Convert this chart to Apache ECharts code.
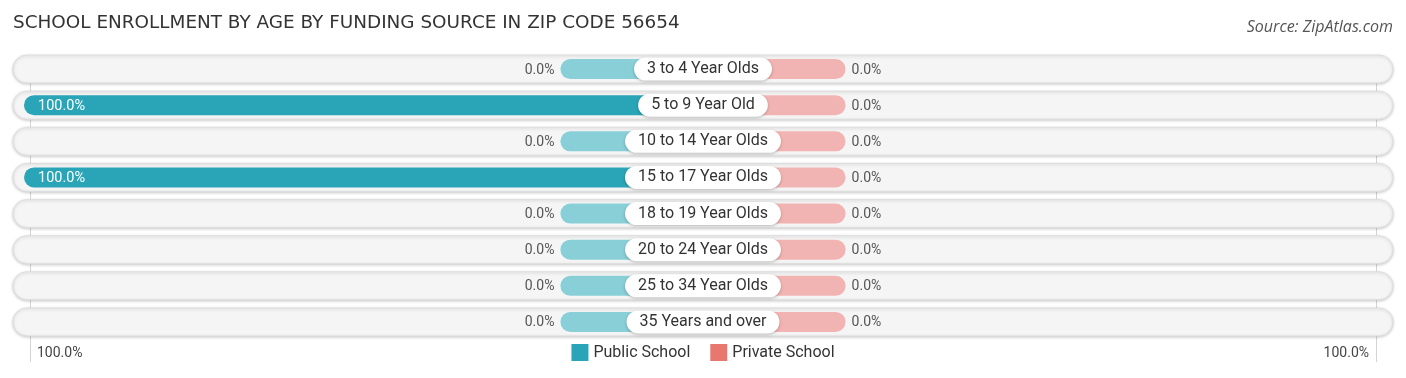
<!DOCTYPE html>
<html>
<head>
<meta charset="utf-8">
<script src="https://cdn.jsdelivr.net/npm/echarts@6/dist/echarts.min.js"></script>
<style>
html,body{margin:0;padding:0;background:#fff;}
#chart{width:1406px;height:378px;}
</style>
</head>
<body>
<div id="chart"></div>
<script>
const categories = ['3 to 4 Year Olds','5 to 9 Year Old','10 to 14 Year Olds','15 to 17 Year Olds','18 to 19 Year Olds','20 to 24 Year Olds','25 to 34 Year Olds','35 Years and over'];
const publicSchool = [0, 100, 0, 100, 0, 0, 0, 0];
const privateSchool = [0, 0, 0, 0, 0, 0, 0, 0];
const seriesNames = ['Public School', 'Private School'];
const axisTickLabels = ['100.0%', '100.0%'];
const axisMax = 100;

const STUB = 21; // minimum displayed width for zero values (visual only)
const FONT = 'Roboto, "Noto Sans", sans-serif';
const colPublic = '#29a5b7', colPublicLight = '#88cfd7';
const colPrivate = '#e8776f', colPrivateLight = '#f2b4b3';

const chart = echarts.init(document.getElementById('chart'), null, {renderer: 'canvas'});

function barItem(sign, full, light) {
  return function (params, api) {
    const v = api.value(0);
    const i = api.value(1);
    const shown = Math.max(v, STUB);
    const p0 = api.coord([0, i]);
    const p1 = api.coord([sign * shown, i]);
    const h = 20;
    const x = Math.min(p0[0], p1[0]);
    const w = Math.abs(p1[0] - p0[0]);
    const inside = shown > 40;
    const label = v.toFixed(1) + '%';
    let tx, align;
    if (sign < 0) {
      tx = inside ? p1[0] + 14 : p1[0] - 6;
      align = inside ? 'left' : 'right';
    } else {
      tx = inside ? p1[0] - 14 : p1[0] + 6;
      align = inside ? 'right' : 'left';
    }
    return {
      type: 'group',
      children: [
        {type: 'rect', shape: {x: x, y: p0[1] - h / 2, width: w, height: h, r: h / 2},
         style: {fill: v > 0 ? full : light}},
        {type: 'text', style: {text: label, x: tx, y: p0[1] + 1, align: align, verticalAlign: 'middle',
          fill: inside ? '#ffffff' : '#555555', font: (inside ? '14.5px ' : '14px ') + FONT}}
      ]
    };
  };
}

const option = {
  animation: false,
  backgroundColor: '#ffffff',
  title: [{
    text: 'SCHOOL ENROLLMENT BY AGE BY FUNDING SOURCE IN ZIP CODE 56654',
    left: 8, top: 9,
    textStyle: {fontSize: 18.4, fontWeight: 'normal', color: '#333333', fontFamily: '"DejaVu Sans", sans-serif'}
  }, {
    text: 'Source: ZipAtlas.com',
    right: 8, top: 14,
    textStyle: {fontSize: 16, fontWeight: 'normal', fontStyle: 'italic', color: '#555555', fontFamily: '"Open Sans", sans-serif'}
  }],
  legend: {
    data: seriesNames.map((n, k) => ({name: n, itemStyle: {color: k === 0 ? colPublic : colPrivate}})),
    left: 'center', top: 339,
    itemWidth: 17, itemHeight: 17, itemGap: 20,
    icon: 'rect',
    textStyle: {fontSize: 16, color: '#333333', fontFamily: FONT},
    selectedMode: false
  },
  grid: {left: 24, right: 24, top: 51, height: 289},
  xAxis: {type: 'value', min: -axisMax, max: axisMax, show: false},
  yAxis: {type: 'category', data: categories, inverse: true, show: false},
  graphic: [
    {type: 'line', shape: {x1: 30.5, y1: 55, x2: 30.5, y2: 362}, style: {stroke: '#d4d4d4', lineWidth: 1}, z: 0},
    {type: 'line', shape: {x1: 1376.5, y1: 55, x2: 1376.5, y2: 362}, style: {stroke: '#d4d4d4', lineWidth: 1}, z: 0},
    {type: 'text', left: 37, top: 346, style: {text: axisTickLabels[0], fill: '#444444', font: '14px ' + FONT}},
    {type: 'text', right: 37, top: 346, style: {text: axisTickLabels[1], fill: '#444444', font: '14px ' + FONT}}
  ],
  series: [
    {
      type: 'custom', name: 'bg', silent: true,
      data: categories.map((c, i) => [0, c]),
      encode: {x: 0, y: 1},
      renderItem: function (params, api) {
        const i = api.value(1);
        const a = api.coord([-axisMax, i]);
        const b = api.coord([axisMax, i]);
        const h = 28;
        return {type: 'rect', shape: {x: a[0] - 11, y: a[1] - h / 2, width: b[0] - a[0] + 22, height: h, r: h / 2},
          style: {fill: '#f5f5f5', stroke: '#dedede', lineWidth: 1, shadowBlur: 3, shadowOffsetY: 1, shadowColor: 'rgba(0,0,0,0.18)'}};
      }
    },
    {
      type: 'custom', name: seriesNames[0], itemStyle: {color: colPublic},
      data: publicSchool.map((v, i) => [v, categories[i]]),
      encode: {x: 0, y: 1},
      renderItem: barItem(-1, colPublic, colPublicLight)
    },
    {
      type: 'custom', name: seriesNames[1], itemStyle: {color: colPrivate},
      data: privateSchool.map((v, i) => [v, categories[i]]),
      encode: {x: 0, y: 1},
      renderItem: barItem(1, colPrivate, colPrivateLight)
    },
    {
      type: 'custom', name: 'labels', silent: true,
      data: categories.map((c, i) => [0, c]),
      encode: {x: 0, y: 1},
      renderItem: function (params, api) {
        const i = api.value(1);
        const p = api.coord([0, i]);
        return {type: 'text', style: {
          text: categories[i], x: p[0], y: p[1], align: 'center', verticalAlign: 'middle',
          fill: '#333333', font: '16px ' + FONT,
          backgroundColor: '#ffffff', padding: [4, 13, 3, 13], borderRadius: 12,
          shadowBlur: 3, shadowColor: 'rgba(0,0,0,0.25)', shadowOffsetY: 1
        }};
      }
    }
  ]
};
chart.setOption(option);
</script>
</body>
</html>
